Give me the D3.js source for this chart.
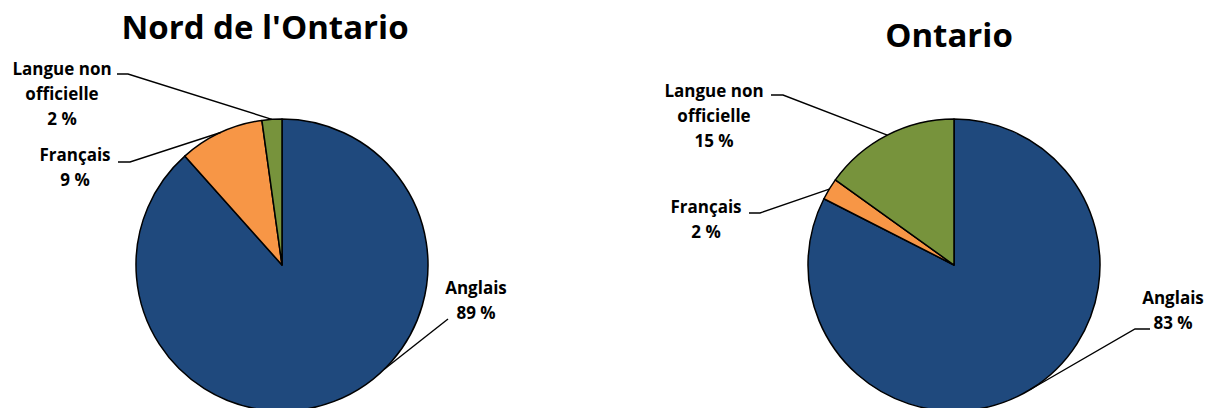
<!DOCTYPE html>
<html>
<head>
<meta charset="utf-8">
<script src="https://cdnjs.cloudflare.com/ajax/libs/d3/7.8.5/d3.min.js"></script>
<style>
    body { margin: 0; background: #fff; }
    svg text { font-family: "Open Sans", sans-serif; font-weight: bold; fill: #000; }
</style>
</head>
<body>
<script>
// data
let categories = ['Anglais', 'Français', 'Langue non officielle'];
let categoryLines = [['Anglais'], ['Français'], ['Langue non', 'officielle']];
let nordValues = [88.4, 9.4, 2.2];
let nordLabels = ['89 %', '9 %', '2 %'];
let ontarioValues = [82.5, 2.4, 15.1];
let ontarioLabels = ['83 %', '2 %', '15 %'];
let colors = ['#1F497D', '#F79646', '#77933C'];

let width = 1212;
let height = 408;
let radius = 146;

let svg = d3.select('body')
            .append('svg')
            .attr('width', width)
            .attr('height', height)

let colorScale = d3.scaleOrdinal()
                    .domain(categories)
                    .range(colors)

// label layout: text centre x, first line centre y, leader start + stub end, where on the slice the leader lands
let charts = [
    {
        title: "Nord de l'Ontario", titleX: 265, titleY: 39,
        cx: 282, cy: 265, values: nordValues, labels: nordLabels,
        place: [
            { x: 476, y: 288, lead: [448, 319], stub: null, t: 0.426 },
            { x: 75, y: 155, lead: [118, 162], stub: [130, 162], t: 0.5 },
            { x: 62, y: 69, lead: [117, 74], stub: [128, 74], t: 0.5 }
        ]
    },
    {
        title: 'Ontario', titleX: 949, titleY: 47,
        cx: 954, cy: 265, values: ontarioValues, labels: ontarioLabels,
        place: [
            { x: 1173, y: 298, lead: [1150, 329], stub: [1135, 329], t: 0.5 },
            { x: 706, y: 207, lead: [749, 213], stub: [760, 213], t: 0.5 },
            { x: 714, y: 91, lead: [771, 95], stub: [783, 95], t: 0.5 }
        ]
    }
];

let pie = d3.pie().sort(null).value(d => d);
let arc = d3.arc().innerRadius(0).outerRadius(radius);

let genPie = (chart) => {
    let g = svg.append('g')
                .attr('transform', 'translate(' + chart.cx + ',' + chart.cy + ')')

    let slices = pie(chart.values);

    g.selectAll('path')
        .data(slices)
        .enter()
        .append('path')
        .attr('d', arc)
        .attr('fill', (d, i) => colorScale(categories[i]))
        .attr('stroke', '#000')
        .attr('stroke-width', 1.5)
        .attr('stroke-linejoin', 'round')

    // leader lines
    slices.forEach((s, i) => {
        let p = chart.place[i];
        let a = s.startAngle + (s.endAngle - s.startAngle) * p.t;
        let end = [chart.cx + radius * Math.sin(a), chart.cy - radius * Math.cos(a)];
        let pts = [p.lead];
        if (p.stub) pts.push(p.stub);
        pts.push(end);
        svg.append('path')
            .attr('d', d3.line()(pts))
            .attr('fill', 'none')
            .attr('stroke', '#000')
            .attr('stroke-width', 1.4)
    })

    // labels
    slices.forEach((s, i) => {
        let p = chart.place[i];
        let lines = categoryLines[i].concat([chart.labels[i]]);
        let txt = svg.append('text')
                    .attr('text-anchor', 'middle')
                    .style('font-size', '17px')
        lines.forEach((l, j) => {
            txt.append('tspan')
                .attr('x', p.x)
                .attr('y', p.y + j * 25)
                .attr('dy', '0.35em')
                .text(l)
        })
    })

    svg.append('text')
        .attr('x', chart.titleX)
        .attr('y', chart.titleY)
        .attr('text-anchor', 'middle')
        .style('font-size', '33px')
        .text(chart.title)
}

charts.forEach(genPie);
</script>
</body>
</html>
